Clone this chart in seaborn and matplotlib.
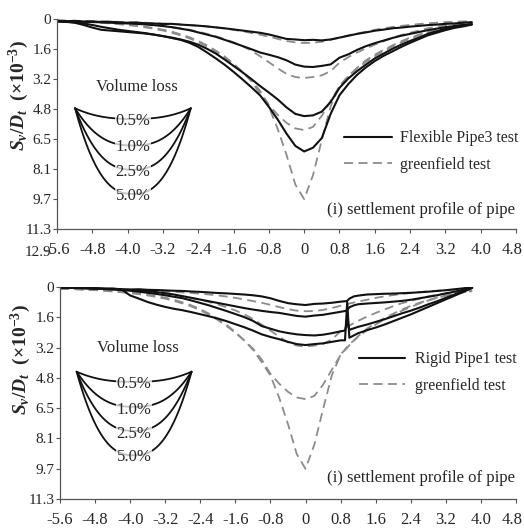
import numpy as np
import pandas as pd
import matplotlib
matplotlib.use("Agg")
import matplotlib.pyplot as plt
import matplotlib.transforms as mtransforms
import seaborn as sns

# ---------------------------------------------------------------- data
offset_x = [-5.6, -5.4, -5.2, -5.0, -4.8, -4.6, -4.4, -4.2, -4.0, -3.8, -3.6, -3.4,
            -3.2, -3.0, -2.8, -2.6, -2.4, -2.2, -2.0, -1.8, -1.6, -1.4, -1.2, -1.0,
            -0.8, -0.6, -0.4, -0.2, 0.0, 0.2, 0.4, 0.6, 0.8, 1.0, 1.2, 1.4,
            1.6, 1.8, 2.0, 2.2, 2.4, 2.6, 2.8, 3.0, 3.2, 3.4, 3.6, 3.8]

# the rigid-pipe survey has extra readings around the joint near x = 0.95
rigid_x = [-5.6, -5.4, -5.2, -5.0, -4.8, -4.6, -4.4, -4.2, -4.0, -3.8, -3.6, -3.4,
           -3.2, -3.0, -2.8, -2.6, -2.4, -2.2, -2.0, -1.8, -1.6, -1.4, -1.2, -1.0,
           -0.8, -0.6, -0.4, -0.2, 0.0, 0.2, 0.4, 0.6, 0.8, 0.9, 0.95, 1.0, 1.1, 1.2,
           1.4, 1.6, 1.8, 2.0, 2.2, 2.4, 2.6, 2.8, 3.0, 3.2, 3.4, 3.6, 3.8]

volume_loss = ["0.5%", "1.0%", "2.5%", "5.0%"]

# greenfield settlement troughs (same tests in both panels)
green_05 = [0.08, 0.09, 0.10, 0.10, 0.12, 0.12, 0.14, 0.15, 0.17, 0.18, 0.20, 0.22,
            0.24, 0.26, 0.29, 0.32, 0.36, 0.40, 0.45, 0.51, 0.58, 0.66, 0.75, 0.84,
            0.95, 1.07, 1.18, 1.26, 1.29, 1.28, 1.22, 1.12, 1.00, 0.88, 0.78, 0.68,
            0.58, 0.50, 0.43, 0.37, 0.32, 0.27, 0.23, 0.20, 0.17, 0.15, 0.13, 0.12]
green_10 = [0.10, 0.10, 0.12, 0.13, 0.14, 0.16, 0.18, 0.20, 0.22, 0.25, 0.28, 0.32,
            0.37, 0.43, 0.50, 0.58, 0.68, 0.80, 0.93, 1.08, 1.25, 1.45, 1.70, 2.00,
            2.32, 2.65, 2.95, 3.12, 3.17, 3.12, 3.03, 2.80, 2.35, 2.05, 1.80, 1.58,
            1.38, 1.20, 1.02, 0.86, 0.74, 0.62, 0.50, 0.42, 0.34, 0.28, 0.22, 0.18]
green_25 = [0.08, 0.10, 0.12, 0.14, 0.17, 0.20, 0.24, 0.28, 0.33, 0.38, 0.45, 0.53,
            0.62, 0.74, 0.88, 1.04, 1.24, 1.48, 1.76, 2.08, 2.44, 2.84, 3.28, 3.86,
            4.62, 5.15, 5.58, 5.88, 5.97, 5.80, 5.20, 4.40, 3.62, 3.10, 2.62, 2.22,
            1.92, 1.66, 1.42, 1.20, 1.00, 0.84, 0.70, 0.56, 0.45, 0.36, 0.28, 0.22]
green_50 = [0.08, 0.10, 0.12, 0.14, 0.16, 0.19, 0.22, 0.26, 0.30, 0.35, 0.41, 0.48,
            0.57, 0.68, 0.82, 0.98, 1.18, 1.42, 1.70, 2.02, 2.40, 2.84, 3.34, 4.00,
            4.72, 5.90, 7.30, 8.90, 9.68, 8.40, 6.50, 4.70, 3.60, 3.05, 2.65, 2.30,
            2.00, 1.72, 1.48, 1.26, 1.06, 0.88, 0.72, 0.58, 0.46, 0.36, 0.28, 0.22]

# flexible pipe (Pipe3) settlement
flex_05 = [0.10, 0.12, 0.10, 0.14, 0.13, 0.16, 0.15, 0.18, 0.20, 0.19, 0.23, 0.24,
           0.27, 0.26, 0.30, 0.33, 0.36, 0.40, 0.45, 0.50, 0.56, 0.62, 0.68, 0.74,
           0.83, 0.95, 1.07, 1.10, 1.14, 1.12, 1.15, 1.10, 1.00, 0.90, 0.80, 0.72,
           0.63, 0.57, 0.50, 0.46, 0.41, 0.37, 0.33, 0.30, 0.26, 0.24, 0.20, 0.17]
flex_10 = [0.12, 0.13, 0.12, 0.15, 0.16, 0.18, 0.20, 0.22, 0.24, 0.26, 0.29, 0.33,
           0.38, 0.44, 0.52, 0.60, 0.72, 0.84, 0.96, 1.12, 1.28, 1.45, 1.62, 1.80,
           1.92, 2.05, 2.22, 2.45, 2.56, 2.58, 2.52, 2.44, 2.08, 1.90, 1.66, 1.46,
           1.30, 1.16, 1.02, 0.90, 0.80, 0.70, 0.60, 0.52, 0.44, 0.38, 0.32, 0.28]
flex_25 = [0.14, 0.16, 0.18, 0.24, 0.32, 0.42, 0.50, 0.58, 0.64, 0.70, 0.76, 0.84,
           0.92, 1.00, 1.10, 1.22, 1.38, 1.60, 1.86, 2.18, 2.52, 2.86, 3.22, 3.60,
           3.95, 4.32, 4.75, 5.10, 5.22, 5.18, 4.98, 4.46, 3.70, 3.20, 2.80, 2.45,
           2.12, 1.86, 1.60, 1.38, 1.18, 1.00, 0.80, 0.66, 0.52, 0.42, 0.34, 0.28]
flex_50 = [0.12, 0.14, 0.20, 0.32, 0.46, 0.58, 0.62, 0.66, 0.70, 0.74, 0.78, 0.84,
           0.92, 1.02, 1.12, 1.28, 1.50, 1.80, 2.12, 2.46, 2.84, 3.24, 3.66, 4.10,
           4.72, 5.40, 6.16, 6.82, 7.12, 6.92, 6.40, 5.10, 4.10, 3.50, 3.00, 2.60,
           2.26, 1.98, 1.74, 1.50, 1.28, 1.08, 0.88, 0.74, 0.60, 0.48, 0.40, 0.30]

# rigid pipe (Pipe1) settlement, on rigid_x
rigid_05 = [0.02, 0.04, 0.05, 0.04, 0.08, 0.10, 0.09, 0.12, 0.13, 0.12, 0.15, 0.16,
            0.18, 0.20, 0.21, 0.24, 0.26, 0.29, 0.32, 0.34, 0.37, 0.40, 0.44, 0.50,
            0.60, 0.74, 0.86, 0.92, 0.96, 0.90, 0.88, 0.84, 0.78, 0.76, 0.74, 0.62,
            0.50, 0.46, 0.40, 0.38, 0.36, 0.35, 0.33, 0.31, 0.28, 0.25, 0.21, 0.17,
            0.12, 0.07, 0.00]
rigid_10 = [0.03, 0.05, 0.04, 0.07, 0.08, 0.10, 0.12, 0.14, 0.16, 0.19, 0.22, 0.27,
            0.33, 0.40, 0.49, 0.58, 0.67, 0.76, 0.85, 0.94, 1.03, 1.12, 1.20, 1.27,
            1.33, 1.38, 1.46, 1.54, 1.58, 1.52, 1.48, 1.40, 1.32, 1.28, 1.24, 1.08,
            0.98, 0.92, 0.88, 0.85, 0.82, 0.78, 0.74, 0.68, 0.60, 0.52, 0.44, 0.34,
            0.25, 0.15, 0.03]
rigid_25 = [0.03, 0.04, 0.06, 0.07, 0.09, 0.11, 0.13, 0.16, 0.20, 0.25, 0.31, 0.37,
            0.44, 0.52, 0.60, 0.72, 0.85, 0.98, 1.13, 1.28, 1.44, 1.60, 1.80, 2.08,
            2.22, 2.36, 2.45, 2.52, 2.56, 2.58, 2.54, 2.46, 2.36, 2.32, 1.80, 2.28,
            2.20, 2.12, 2.00, 1.86, 1.72, 1.56, 1.40, 1.26, 1.10, 0.92, 0.76, 0.58,
            0.40, 0.22, 0.04]
rigid_50 = [0.02, 0.04, 0.05, 0.06, 0.06, 0.08, 0.09, 0.12, 0.45, 0.62, 0.80, 0.94,
            1.06, 1.16, 1.24, 1.34, 1.45, 1.56, 1.68, 1.82, 1.98, 2.14, 2.32, 2.52,
            2.66, 2.78, 2.92, 3.04, 3.09, 3.04, 3.00, 2.92, 2.84, 2.84, 0.80, 2.70,
            2.58, 2.46, 2.30, 2.16, 2.00, 1.82, 1.64, 1.46, 1.26, 1.06, 0.86, 0.66,
            0.46, 0.26, 0.05]

# axis ticks
x_ticks = [-5.6, -4.8, -4.0, -3.2, -2.4, -1.6, -0.8, 0.0, 0.8, 1.6, 2.4, 3.2, 4.0, 4.8]
x_ticklabels = ["-5.6", "-4.8", "-4.0", "-3.2", "-2.4", "-1.6", "-0.8", "0",
                "0.8", "1.6", "2.4", "3.2", "4.0", "4.8"]
y_ticks = [0.0, 1.6125, 3.225, 4.8375, 6.45, 8.0625, 9.675, 11.2875, 12.9]
y_ticklabels = ["0", "1.6", "3.2", "4.8", "6.5", "8.1", "9.7", "11.3", "12.9"]

# volume-loss key sketch (trough depths and label heights, per panel)
key_top_depths = [5.37, 6.80, 8.10, 9.40]
key_top_labels_y = [5.48, 6.90, 8.24, 9.50]
key_bot_depths = [5.05, 6.38, 7.66, 8.96]
key_bot_labels_y = [5.17, 6.56, 7.84, 9.05]

# ---------------------------------------------------------------- style
sns.set_theme(style="ticks")
plt.rcParams["font.family"] = ["Liberation Serif", "DejaVu Serif"]
plt.rcParams["mathtext.fontset"] = "custom"
plt.rcParams["mathtext.rm"] = "Liberation Serif:bold"
plt.rcParams["mathtext.it"] = "Liberation Serif:italic:bold"
plt.rcParams["mathtext.bf"] = "Liberation Serif:bold"

INK = "#111111"
GREY = "#8c8c8c"
DASH = (0, (5, 3))


def long_frame(xs, series):
    rows = []
    for name, values in series.items():
        for x, s in zip(xs, values):
            rows.append({"x": x, "s": s, "vl": name})
    return pd.DataFrame(rows)


def draw_profiles(ax, frame, color, ls, lw):
    for name in volume_loss:
        sub = frame[frame["vl"] == name]
        sns.lineplot(data=sub, x="x", y="s", ax=ax, color=color, linestyle=ls,
                     linewidth=lw, sort=False, estimator=None, legend=False)


def draw_key(ax, x0, x1, y_top, depths, labels_y, title_y):
    t = np.linspace(-1.0, 1.0, 80)
    xc = 0.5 * (x0 + x1)
    xs = xc + t * 0.5 * (x1 - x0)
    for d, lab, ly in zip(depths, volume_loss, labels_y):
        ys = y_top + (d - y_top) * (1.0 - np.abs(t) ** 2.5)
        ax.plot(xs, ys, color=INK, lw=1.3, zorder=3)
        ax.text(xc, ly, lab, ha="center", va="center", fontsize=12, zorder=4,
                bbox=dict(fc="white", ec="none", pad=0.2, alpha=0.75))
    ax.text(xc + 0.08, title_y, "Volume loss", ha="center", va="center", fontsize=12)


def nudge(label, dx_px, dy_px):
    label.set_transform(label.get_transform() +
                        mtransforms.ScaledTranslation(dx_px / 100, dy_px / 100,
                                                      fig.dpi_scale_trans))


def style_axes(ax, y_max, x_axis_at=None):
    ax.set_xlim(-5.6, 4.8)
    ax.set_ylim(y_max, 0)
    for side in ("top", "right"):
        ax.spines[side].set_visible(False)
    for side in ("left", "bottom"):
        ax.spines[side].set_color("#555555")
        ax.spines[side].set_linewidth(0.9)
    if x_axis_at is not None:
        ax.spines["bottom"].set_position(("data", x_axis_at))
        ax.spines["left"].set_bounds(0, x_axis_at)
    ax.set_xticks(x_ticks)
    ax.set_xticklabels(x_ticklabels)
    n = sum(1 for v in y_ticks if v <= y_max + 1e-9)
    ax.set_yticks(y_ticks[:n])
    ax.set_yticklabels(y_ticklabels[:n])
    ax.tick_params(axis="x", labelsize=12, length=3, width=0.8, pad=6,
                   color="#555555", direction="out")
    ax.tick_params(axis="y", labelsize=11, length=3, width=0.8, pad=1,
                   color="#555555", direction="out")
    ax.set_xlabel("")
    ax.set_ylabel("")
    # keep the last x label inside the canvas
    nudge(ax.get_xticklabels()[-1], -4, 0)


fig = plt.figure(figsize=(5.24, 5.32), dpi=100)
ax_top = fig.add_axes([57 / 524, 1 - 259 / 532, 459 / 524, 240 / 532])
ax_bot = fig.add_axes([60 / 524, 1 - 499 / 532, 456 / 524, 212 / 532])

green = long_frame(offset_x, dict(zip(volume_loss, [green_05, green_10, green_25, green_50])))
flex = long_frame(offset_x, dict(zip(volume_loss, [flex_05, flex_10, flex_25, flex_50])))
rigid = long_frame(rigid_x, dict(zip(volume_loss, [rigid_05, rigid_10, rigid_25, rigid_50])))

h1 = plt.Line2D([], [], color=INK, lw=1.5)
h2 = plt.Line2D([], [], color=GREY, lw=1.3, linestyle=DASH)
ylabel = r"$S_v/D_t$  (×10$^{-3}$)"

# ---------------- upper panel: flexible pipe
draw_profiles(ax_top, green, GREY, DASH, 1.3)
draw_profiles(ax_top, flex, INK, "-", 1.5)
style_axes(ax_top, 12.9, x_axis_at=11.2875)
nudge(ax_top.get_yticklabels()[-1], 0, 8)
ax_top.yaxis.get_major_ticks()[-1].tick1line.set_visible(False)
draw_key(ax_top, -5.19, -2.57, 4.80, key_top_depths, key_top_labels_y, 3.66)

ax_top.legend([h1, h2], ["Flexible Pipe3 test", "greenfield test"], frameon=False,
              loc="center left", bbox_to_anchor=(0.594, 0.448), fontsize=11.5,
              handlelength=3.0, handletextpad=0.5, labelspacing=0.65)
ax_top.text(0.997, 0.205, "(i) settlement profile of pipe", transform=ax_top.transAxes,
            ha="right", va="center", fontsize=12)
fig.text(19 / 524, 1 - 96 / 532, ylabel, rotation=90, ha="center", va="center",
         fontsize=14, fontweight="bold")

# ---------------- lower panel: rigid pipe
draw_profiles(ax_bot, green, GREY, DASH, 1.3)
draw_profiles(ax_bot, rigid, INK, "-", 1.5)
style_axes(ax_bot, 11.2875)
draw_key(ax_bot, -5.22, -2.60, 4.51, key_bot_depths, key_bot_labels_y, 3.27)

ax_bot.legend([h1, h2], ["Rigid Pipe1 test", "greenfield test"], frameon=False,
              loc="center left", bbox_to_anchor=(0.624, 0.597), fontsize=11.5,
              handlelength=2.9, handletextpad=0.6, labelspacing=0.65)
ax_bot.text(0.997, 0.099, "(i) settlement profile of pipe", transform=ax_bot.transAxes,
            ha="right", va="center", fontsize=12)
fig.text(21 / 524, 1 - 360 / 532, ylabel, rotation=90, ha="center", va="center",
         fontsize=14, fontweight="bold")

fig.savefig("out.png", dpi=100)
